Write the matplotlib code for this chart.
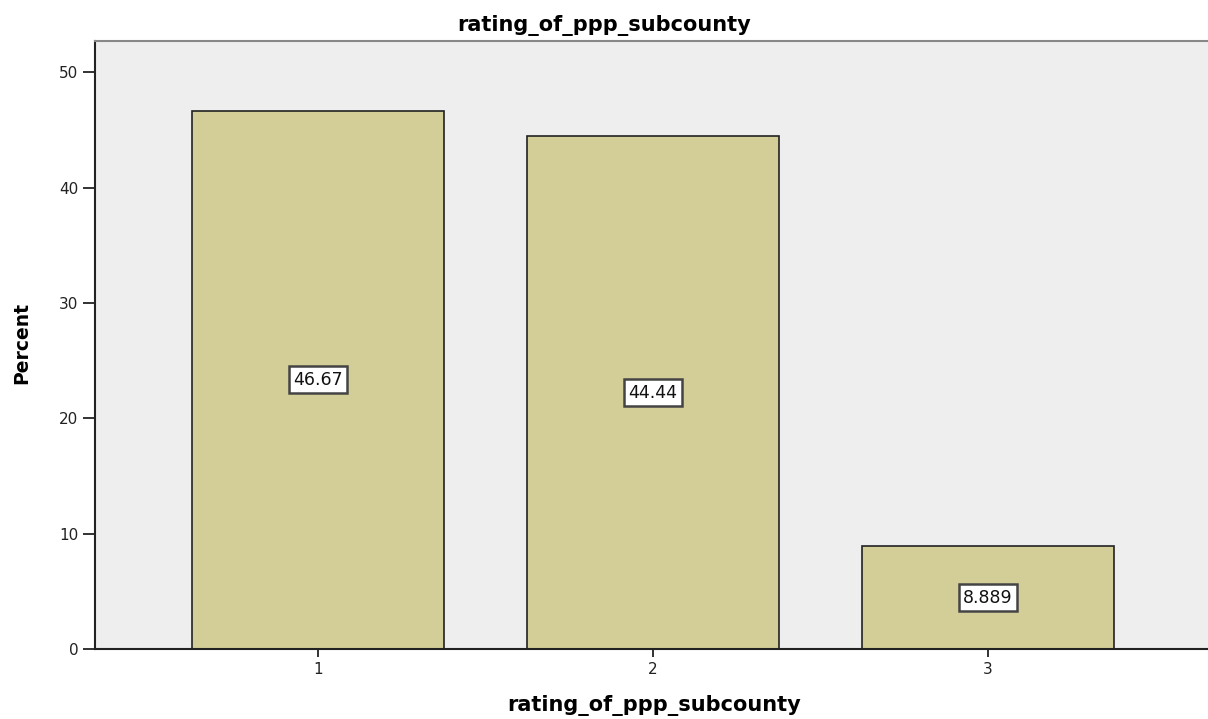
import matplotlib
matplotlib.use('Agg')
import matplotlib.pyplot as plt

# Frequency table for rating_of_ppp_subcounty
categories = ['1', '2', '3']
percent = [46.67, 44.44, 8.889]
value_labels = ['46.67', '44.44', '8.889']

fig = plt.figure(figsize=(12.08, 7.19), dpi=100)
ax = fig.add_axes([95 / 1208, 1 - 649 / 719, 1 - 95 / 1208, (649 - 41) / 719])
ax.set_facecolor('#eeeeee')

x = [1, 2, 3]
ax.bar(x, percent, width=0.75, color='#d3ce98', edgecolor='#222222', linewidth=1.2)

# value labels in the middle of each bar
for xi, p, lab in zip(x, percent, value_labels):
    ax.text(xi, p / 2, lab, ha='center', va='center', fontsize=12.5, color='#111111',
            bbox=dict(boxstyle='square,pad=0.25', facecolor='white',
                      edgecolor='#444444', linewidth=1.8))

ax.set_xlim(0.334, 3.657)
ax.set_ylim(0, 52.7)
ax.set_xticks(x)
ax.set_xticklabels(categories)
ax.set_yticks([0, 10, 20, 30, 40, 50])
ax.tick_params(axis='both', labelsize=11, width=1.3, color='#222222', labelcolor='#222222', pad=3)
ax.tick_params(axis='y', length=9)
ax.tick_params(axis='x', length=6)

for side in ['left', 'bottom']:
    ax.spines[side].set_color('#222222')
    ax.spines[side].set_linewidth(1.5)
ax.spines['top'].set_color('#888888')
ax.spines['top'].set_linewidth(1.5)
ax.spines['right'].set_visible(False)

ax.set_title('rating_of_ppp_subcounty', fontsize=15, fontweight='bold', pad=7,
             x=(604 - 95) / (1208 - 95))
ax.set_xlabel('rating_of_ppp_subcounty', fontsize=15, fontweight='bold')
ax.xaxis.set_label_coords((654 - 95) / (1208 - 95), -(706 - 649) / 608)
ax.xaxis.label.set_va('center')
ax.set_ylabel('Percent', fontsize=13.5, fontweight='bold')
ax.yaxis.set_label_coords(-(95 - 22) / 1113, (649 - 343) / 608)
ax.yaxis.label.set_va('center')

fig.savefig('out.png', dpi=100)
